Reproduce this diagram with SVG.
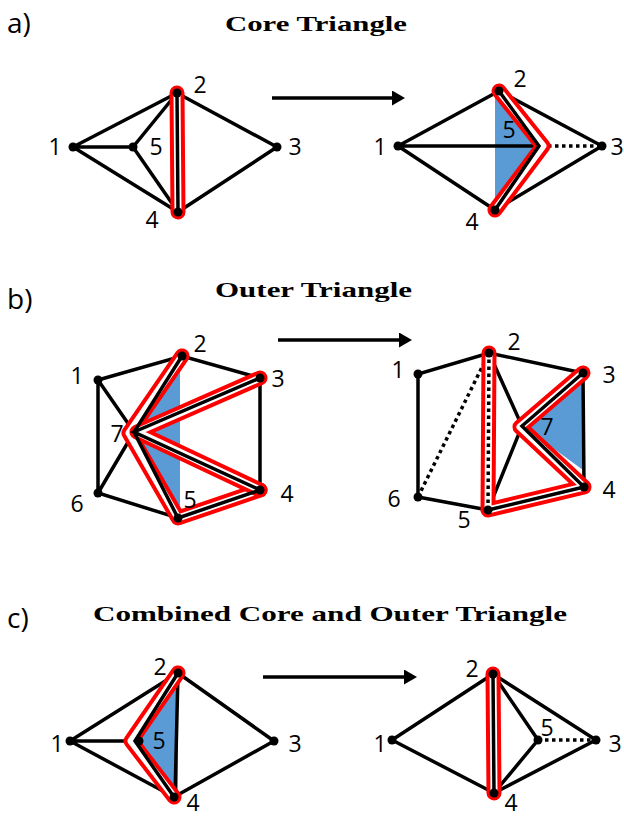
<svg xmlns="http://www.w3.org/2000/svg" width="624" height="818" viewBox="0 0 624 818">
<style>
.e{stroke:#000;stroke-width:3.5;stroke-linecap:round;fill:none}
.d{stroke:#000;stroke-width:3.5;stroke-dasharray:3.5 3.5;fill:none}
.hr{stroke:#f00;stroke-width:15;stroke-linejoin:round;stroke-linecap:round;fill:none}
.hw{stroke:#fff;stroke-width:7;stroke-linejoin:round;stroke-linecap:round;fill:none}
.bl{fill:#5B9BD5}
.ar{stroke:#000;stroke-width:3.5;fill:none}
.lb{font-family:"Open Sans","Liberation Sans",sans-serif;font-size:23px;text-anchor:middle;fill:#000}
.pl{font-family:"Open Sans","Liberation Sans",sans-serif;font-size:28px;fill:#000}
.tt{font-family:"Liberation Serif","DejaVu Serif",serif;font-weight:bold;font-size:21px;fill:#000}
</style>
<defs>
<marker id="ah" viewBox="0 0 13 15" refX="1" refY="7.5" markerWidth="13" markerHeight="15" markerUnits="userSpaceOnUse" orient="auto">
<path d="M0,0 L13,7.5 L0,15 z" fill="#000"/>
</marker>
</defs>

<!-- panel labels and titles -->
<text class="pl" x="7" y="33">a)</text>
<text class="pl" x="7" y="309">b)</text>
<text class="pl" x="7" y="628">c)</text>
<text class="tt" x="225" y="31" textLength="182" lengthAdjust="spacingAndGlyphs">Core Triangle</text>
<text class="tt" x="215" y="297" textLength="197" lengthAdjust="spacingAndGlyphs">Outer Triangle</text>
<text class="tt" x="93" y="621" textLength="474" lengthAdjust="spacingAndGlyphs">Combined Core and Outer Triangle</text>

<!-- blue faces -->
<g id="faces">
<polygon class="bl" points="495,93 499,91 539,146 495,208"/>
<polygon class="bl" points="180,359 133,432 180,515"/>
<polygon class="bl" points="583,378 524,427 583,470"/>
<polygon class="bl" points="178,674 134,741 175,796 178,796"/>
</g>

<!-- connectors -->
<g id="connectors">
<!-- a left -->
<path class="e" d="M73,147 L177,93 M73,147 L178,212 M73,147 L133,147 M133,147 L177,93 M133,147 L178,212 M177,93 L277,147 M178,212 L277,147"/>
<!-- a right -->
<path class="e" d="M398,146 L499,91 M398,146 L495,210 M398,146 L539,146 M499,91 L602,146 M495,210 L602,146"/>
<path class="d" d="M548,146 L602,146"/>
<!-- b left -->
<path class="e" d="M98,380 L182,356 L260,378 L260,490 L178,518 L98,493 Z M98,380 L134,432 M98,493 L134,432"/>
<!-- b right -->
<path class="e" d="M583,373 L489,353 L418,374 L418,497 L488,510 M489,353 L522,426 L488,510"/>
<path class="e" d="M583,373 L584,487"/>
<path class="d" d="M418,497 L489,353"/>
<!-- c left -->
<path class="e" d="M70,741 L178,673 M70,741 L174,797 M70,741 L139,741 M178,673 L274,741 M174,797 L274,741 M178,673 L175,797"/>
<!-- c right -->
<path class="e" d="M392,740 L493,674 M392,740 L494,793 M493,674 L596,740 M494,793 L596,740 M493,674 L538,740 L494,793"/>
<path class="d" d="M545,740 L596,740"/>

<!-- arrows -->
<line class="ar" x1="272" y1="98" x2="393" y2="98" marker-end="url(#ah)"/>
<line class="ar" x1="278" y1="340" x2="400" y2="340" marker-end="url(#ah)"/>
<line class="ar" x1="263" y1="677" x2="405" y2="677" marker-end="url(#ah)"/>
</g>

<!-- highlighted paths -->
<g id="highlights">
<path class="hr" d="M177,93 L178,212"/><path class="hw" d="M177,93 L178,212"/>
<path class="hr" d="M499,91 L543,146 L495,210"/><path class="hw" d="M499,91 L543,146 L495,210"/>
<path class="hr" d="M182,356 L129,433 L178,518 L260,490"/><path class="hw" d="M182,356 L129,433 L178,518 L260,490"/>
<path class="hr" d="M260,378 L137,432 L260,490"/><path class="hw" d="M260,378 L137,432 L260,490"/>
<path class="hr" d="M583,373 L520,427 L584,487 L488,510 L489,353"/><path class="hw" d="M583,373 L520,427 L584,487 L488,510 L489,353"/>
<path class="hr" d="M178,673 L131,741 L174,797"/><path class="hw" d="M178,673 L131,741 L174,797"/>
<path class="hr" d="M493,674 L494,793"/><path class="hw" d="M493,674 L494,793"/>
</g>
<g id="connectors-highlighted">
<path class="e" d="M177,93 L178,212"/>
<path class="e" d="M499,91 L539,146 L495,210"/>
<path class="e" d="M182,356 L134,432 L178,518 L260,490 M260,378 L134,432 L260,490"/>
<path class="e" d="M583,373 L522,426 L584,487 L488,510"/>
<path class="d" d="M488,510 L489,353"/>
<path class="e" d="M178,673 L135,741 L174,797"/>
<path class="e" d="M493,674 L494,793"/>
</g>

<!-- nodes: panel a left -->
<g id="a1-n1"><circle cx="73" cy="147" r="4.5"/><text class="lb" x="55" y="155">1</text></g>
<g id="a1-n2"><circle cx="177" cy="93" r="4.5"/><text class="lb" x="200" y="93">2</text></g>
<g id="a1-n3"><circle cx="277" cy="147" r="4.5"/><text class="lb" x="295" y="155">3</text></g>
<g id="a1-n4"><circle cx="178" cy="212" r="4.5"/><text class="lb" x="152" y="228">4</text></g>
<g id="a1-n5"><circle cx="133" cy="147" r="4.5"/><text class="lb" x="156" y="155">5</text></g>
<!-- panel a right -->
<g id="a2-n1"><circle cx="398" cy="146" r="4.5"/><text class="lb" x="380" y="155">1</text></g>
<g id="a2-n2"><circle cx="499" cy="91" r="4.5"/><text class="lb" x="520" y="87">2</text></g>
<g id="a2-n3"><circle cx="602" cy="146" r="4.5"/><text class="lb" x="617" y="155">3</text></g>
<g id="a2-n4"><circle cx="495" cy="210" r="4.5"/><text class="lb" x="472" y="230">4</text></g>
<g id="a2-n5"><text class="lb" x="509" y="138">5</text></g>
<!-- panel b left -->
<g id="b1-n1"><circle cx="98" cy="380" r="4.5"/><text class="lb" x="77" y="384">1</text></g>
<g id="b1-n2"><circle cx="182" cy="356" r="4.5"/><text class="lb" x="200" y="352">2</text></g>
<g id="b1-n3"><circle cx="260" cy="378" r="4.5"/><text class="lb" x="278" y="387">3</text></g>
<g id="b1-n4"><circle cx="260" cy="490" r="4.5"/><text class="lb" x="287" y="502">4</text></g>
<g id="b1-n5"><circle cx="178" cy="518" r="4.5"/><text class="lb" x="190" y="508">5</text></g>
<g id="b1-n6"><circle cx="98" cy="493" r="4.5"/><text class="lb" x="77" y="512">6</text></g>
<g id="b1-n7"><text class="lb" x="117" y="442">7</text></g>
<!-- panel b right -->
<g id="b2-n1"><circle cx="418" cy="374" r="4.5"/><text class="lb" x="398" y="378">1</text></g>
<g id="b2-n2"><circle cx="489" cy="353" r="4.5"/><text class="lb" x="514" y="350">2</text></g>
<g id="b2-n3"><circle cx="583" cy="373" r="4.5"/><text class="lb" x="609" y="383">3</text></g>
<g id="b2-n4"><circle cx="584" cy="487" r="4.5"/><text class="lb" x="609" y="498">4</text></g>
<g id="b2-n5"><circle cx="488" cy="510" r="4.5"/><text class="lb" x="464" y="528">5</text></g>
<g id="b2-n6"><circle cx="418" cy="497" r="4.5"/><text class="lb" x="394" y="507">6</text></g>
<g id="b2-n7"><text class="lb" x="547" y="435">7</text></g>
<!-- panel c left -->
<g id="c1-n1"><circle cx="70" cy="741" r="4.5"/><text class="lb" x="57" y="752">1</text></g>
<g id="c1-n2"><circle cx="178" cy="673" r="4.5"/><text class="lb" x="160" y="675">2</text></g>
<g id="c1-n3"><circle cx="274" cy="741" r="4.5"/><text class="lb" x="295" y="752">3</text></g>
<g id="c1-n4"><circle cx="174" cy="797" r="4.5"/><text class="lb" x="193" y="811">4</text></g>
<g id="c1-n5"><circle cx="139" cy="741" r="4.5"/><text class="lb" x="159" y="749">5</text></g>
<!-- panel c right -->
<g id="c2-n1"><circle cx="392" cy="740" r="4.5"/><text class="lb" x="380" y="752">1</text></g>
<g id="c2-n2"><circle cx="493" cy="674" r="4.5"/><text class="lb" x="472" y="677">2</text></g>
<g id="c2-n3"><circle cx="596" cy="740" r="4.5"/><text class="lb" x="615" y="752">3</text></g>
<g id="c2-n4"><circle cx="494" cy="793" r="4.5"/><text class="lb" x="511" y="811">4</text></g>
<g id="c2-n5"><circle cx="538" cy="740" r="4.5"/><text class="lb" x="547" y="736">5</text></g>
</svg>
